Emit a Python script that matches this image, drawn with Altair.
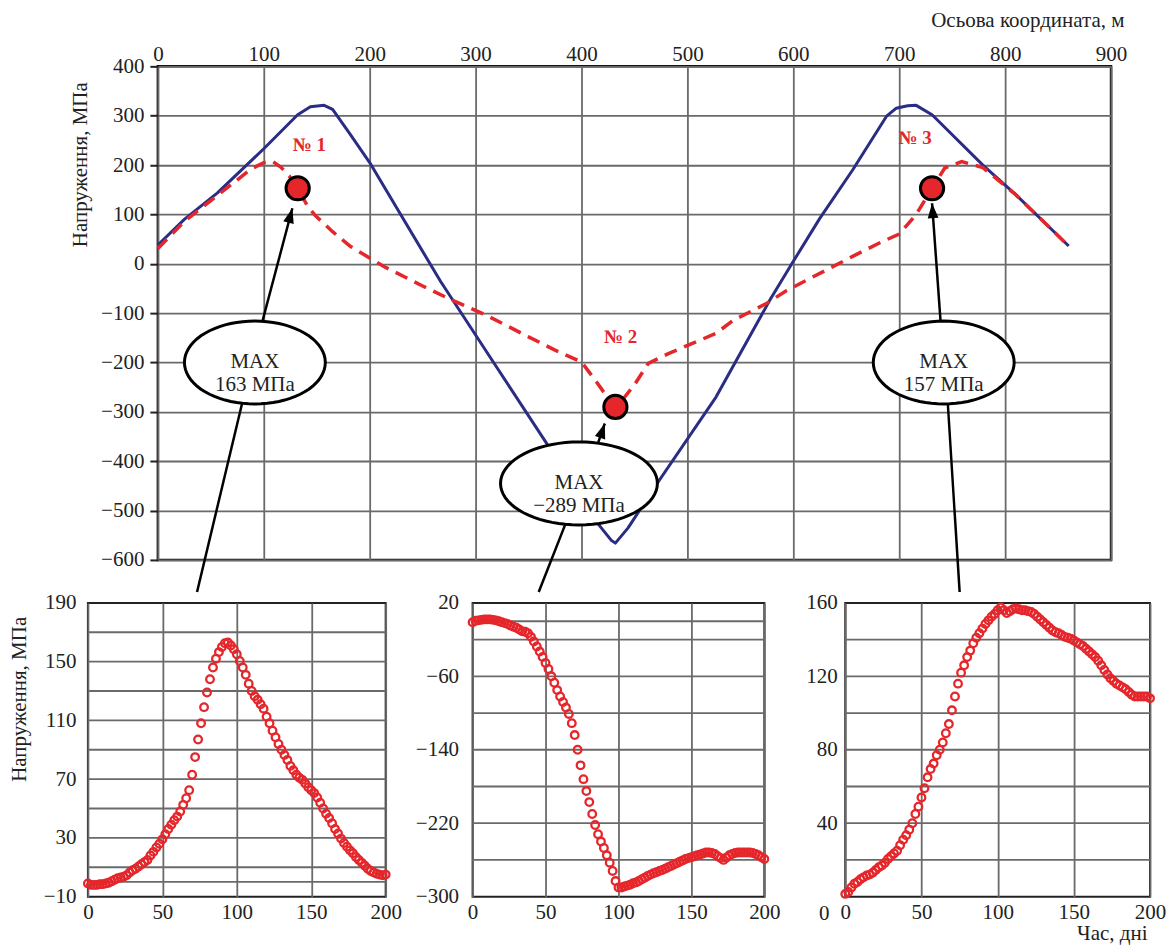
import math
import altair as alt
import pandas as pd

FONT = "Liberation Serif"
RED = "#e5262b"
BLUE = "#2b2d84"
GRID = "#6a6a6a"
INK = "#222222"

# ---------------- top panel data ----------------
coord_blue = [0, 25, 56, 100, 132, 144, 157, 165, 182, 200, 267, 317, 368, 416, 428, 432,
              444, 473, 527, 578, 598, 625, 656, 688, 697, 708, 716, 731, 779, 810, 860]
stress_blue = [38, 90, 143, 233, 302, 318, 321, 313, 261, 205, -36, -200, -367, -528, -560, -566,
               -535, -440, -270, -73, -2, 92, 190, 299, 315, 320, 321, 302, 200, 140, 36]

coord_red = [0, 25, 56, 88, 100, 108, 116, 124, 132, 140, 148, 165, 182, 213, 250, 276, 308,
             350, 375, 400, 413, 425, 432, 440, 450, 463, 482, 527, 543, 575, 593, 656, 684,
             700, 716, 731, 743, 759, 779, 810, 860]
stress_red = [31, 86, 138, 192, 205, 208, 196, 178, 153, 122, 99, 65, 35, -5, -45, -72, -102,
              -148, -175, -199, -236, -272, -290, -272, -245, -202, -182, -141, -115, -80, -55, 15, 45,
              60, 100, 153, 194, 207, 195, 140, 36]

point_x = [132, 432, 731]
point_y = [153, -290, 153]

no_labels = ["№ 1", "№ 2", "№ 3"]
no_x = [143, 437, 715]
no_y = [241, -148, 255]

ell_text = ["MAX\n163 МПа", "MAX\n−289 МПа", "MAX\n157 МПа"]
ell_x = [91.6, 397.6, 742]
ell_y = [-200, -445, -200]

arrow_x = [98.8, 415.8, 739]
arrow_y = [-116, -362, -116]
arrow_x2 = [127, 422, 731]
arrow_y2 = [112.6, -323.6, 122.7]
arrow_angle = [15, 18.5, 356]

conn_x = [79.4, 384.5, 745.9]
conn_y = [-284, -529, -284]
conn_x2 = [37, 359.6, 757]
conn_y2 = [-665, -665, -665]

# ---------------- bottom panels data ----------------
days = list(range(0, 201, 2))
stress_p1 = [-1, -2, -2, -2, -1.5, -1.5, -1, -0.5, 0.5, 1.5, 2.5, 3, 3.5, 4.5, 6.5, 8, 9, 10.5, 12, 13.5,
             15, 18, 20.5, 23.5, 26, 29, 32.5, 36, 39, 42, 44.5, 48, 52.5, 57, 62.5, 73, 85, 97, 108, 119,
             129, 138, 146, 152, 156.5, 160, 162.5, 163, 161, 158.5, 155, 150.5, 146, 141, 135, 130, 126.5,
             124, 121, 118, 112.5, 108, 103, 98.5, 94, 90, 86.5, 83, 79, 76, 73, 71, 69.5, 67, 64.5, 62.5,
             60.5, 57.5, 54, 50, 46.5, 43.5, 40, 36, 33, 29.5, 26.5, 24, 21.5, 19.5, 17, 15, 13, 11, 9, 7.5,
             6.5, 5.5, 5, 4.5, 5]
stress_p2 = [-1, 0.5, 1, 1.5, 2, 2, 2, 1.5, 1, 0, -1, -2, -3, -4.5, -6, -7, -9, -11, -11.5, -13,
             -17, -22, -27.5, -33, -39, -45.5, -52, -60, -67, -75, -82, -88, -94, -101, -111, -124, -140,
             -157, -172, -185, -197, -210, -222, -232, -240, -247, -255, -263, -272, -283, -290, -290, -289,
             -288, -287, -285.5, -284.5, -283, -281, -279.5, -277.5, -276, -274.5, -273.5, -272, -271,
             -269.5, -268, -266.5, -265, -263.5, -262, -260.5, -259, -258, -257, -256, -255, -254, -253,
             -252, -252, -252.5, -253.5, -256, -258, -260, -257.5, -255, -253.5, -252.5, -252, -252, -252,
             -252, -252, -252.5, -253.5, -255, -257, -259]
stress_p3 = [1.5, 2.5, 5, 7, 8, 9.5, 10.5, 11.5, 12, 13, 14.5, 16, 17, 18.5, 20.5, 22, 23.5, 25, 28, 31,
             33.5, 36.5, 40, 45, 49, 54, 59, 65, 69.5, 72.5, 77, 80, 84, 89, 94, 101.5, 109, 116, 122, 126,
             130.5, 134, 138, 141, 143.5, 146, 148.5, 150.5, 152.5, 154, 156, 157.5, 156, 154.5, 155.5, 156.5,
             157, 156.5, 156, 156, 155.5, 155, 154, 152.5, 151, 149.5, 148, 146.5, 145, 144, 143.5, 142.5,
             141.5, 141, 140.5, 139.5, 138.5, 137.5, 136.5, 135, 133.5, 132, 130.5, 128.5, 126, 123.5, 121,
             119, 117.5, 116, 115, 114, 113, 111.5, 110, 109, 109, 109, 109, 109, 108]

p1_yticks = [-10, 30, 70, 110, 150, 190]
p1_ygrid = [0, 10, 30, 50, 70, 90, 110, 130, 150, 170]
p2_yticks = [20, -60, -140, -220, -300]
p2_ygrid = [0, -20, -60, -100, -140, -180, -220, -260]
p3_yticks = [40, 80, 120, 160]
p3_ygrid = [20, 40, 60, 80, 100, 120, 140]
day_ticks = [0, 50, 100, 150, 200]

# ---------------- layout (pixels) ----------------
TL, TT, TW, TH = 156, 65, 954, 494
PT, PH = 599, 294
P1L, P1W = 87, 298
P2L, P2W = 470, 292
P3L, P3W = 843, 305


def lin(px, p0, w, d0, d1):
    return d0 + (px - p0) * (d1 - d0) / w


def ellipse_path(ry, n=72):
    pts = []
    for i in range(n):
        t = 2 * math.pi * i / n
        pts.append(f"{math.cos(t):.4f},{ry * math.sin(t):.4f}")
    return "M" + " L".join(pts) + " Z"


ARROW_PATH = "M0,0 L0.36,1 L-0.36,1 Z"

xs_top = alt.Scale(domain=[0, 900], nice=False, zero=False)
ys_top = alt.Scale(domain=[-600, 400], nice=False, zero=False)

top_x_axis = alt.Axis(orient="top", values=list(range(0, 901, 100)), title="Осьова координата, м",
                      titleX=TW + 13, titleY=-46, titleAlign="right", titleBaseline="middle", titleAngle=0,
                      titleFont=FONT, titleFontSize=21, titleFontWeight="normal", titleColor=INK,
                      labelFont=FONT, labelFontSize=21, labelColor=INK, labelPadding=2, labelFlush=False,
                      labelOverlap=False, ticks=False, domain=False, grid=True, gridColor=GRID, gridWidth=1.8)
top_y_axis = alt.Axis(values=list(range(-600, 401, 100)), title="Напруження, МПа",
                      titleX=-77, titleY=98, titleAlign="center", titleBaseline="middle", titleAngle=270,
                      titleFont=FONT, titleFontSize=21, titleFontWeight="normal", titleColor=INK,
                      labelFont=FONT, labelFontSize=21, labelColor=INK, labelPadding=6, labelOverlap=False,
                      ticks=True, tickSize=8, tickColor=INK, tickWidth=2, domain=False,
                      grid=True, gridColor=GRID, gridWidth=1.8)


def TX(f):
    return alt.X(f, type="quantitative", scale=xs_top, axis=top_x_axis)


def TY(f):
    return alt.Y(f, type="quantitative", scale=ys_top, axis=top_y_axis)


df_blue = pd.DataFrame({"x": coord_blue, "y": stress_blue})
df_red = pd.DataFrame({"x": coord_red, "y": stress_red})
df_pts = pd.DataFrame({"x": point_x, "y": point_y})
df_no = pd.DataFrame({"x": no_x, "y": no_y, "t": no_labels})
df_ell = pd.DataFrame({"x": ell_x, "y": ell_y, "t": ell_text})
df_arrow = pd.DataFrame({"x": arrow_x, "y": arrow_y, "x2": arrow_x2, "y2": arrow_y2, "a": arrow_angle})
df_conn = pd.DataFrame({"x": conn_x, "y": conn_y, "x2": conn_x2, "y2": conn_y2})
df_top_sp = pd.DataFrame({
    "x": [lin(0.5, TL, TW, 0, 900)], "x2": [lin(0.5, TL, TW, 0, 900)],
    "y": [400 - (0.5 - TT) * 1000 / TH], "y2": [400 - (600 - TT) * 1000 / TH]})

blue_line = alt.Chart(df_blue).mark_line(color=BLUE, strokeWidth=3, strokeJoin="round").encode(
    x=TX("x"), y=TY("y"))
red_line = alt.Chart(df_red).mark_line(color=RED, strokeWidth=3.5, strokeDash=[13, 8]).encode(
    x=TX("x"), y=TY("y"))
red_pts = alt.Chart(df_pts).mark_point(shape="circle", filled=True, fill=RED, stroke="black",
                                       strokeWidth=3, size=540, opacity=1).encode(x=TX("x"), y=TY("y"))
arrows = alt.Chart(df_arrow).mark_rule(color="black", strokeWidth=2.5).encode(
    x=TX("x"), y=TY("y"), x2=alt.X2("x2"), y2=alt.Y2("y2"))
heads = alt.Chart(df_arrow).mark_point(shape=ARROW_PATH, filled=True, color="black", size=900,
                                       opacity=1).encode(
    x=TX("x2"), y=TY("y2"), angle=alt.Angle("a:Q", scale=None))
conns = alt.Chart(df_conn).mark_rule(color="black", strokeWidth=2.5).encode(
    x=TX("x"), y=TY("y"), x2=alt.X2("x2"), y2=alt.Y2("y2"))
ell_a = alt.Chart(df_ell.iloc[[0, 2]]).mark_point(
    shape=ellipse_path(83 / 141), size=141 * 141, filled=True, fill="white", stroke="black",
    strokeWidth=3, opacity=1).encode(x=TX("x"), y=TY("y"))
ell_b = alt.Chart(df_ell.iloc[[1]]).mark_point(
    shape=ellipse_path(83 / 157), size=157 * 157, filled=True, fill="white", stroke="black",
    strokeWidth=3, opacity=1).encode(x=TX("x"), y=TY("y"))
ell_txt = alt.Chart(df_ell).mark_text(font=FONT, fontSize=21, lineBreak="\n", lineHeight=23,
                                      color=INK, align="center", baseline="middle").encode(
    x=TX("x"), y=TY("y"), text="t:N")
no_txt = alt.Chart(df_no).mark_text(font=FONT, fontSize=19, fontWeight="bold", color=RED,
                                    align="center", baseline="middle").encode(
    x=TX("x"), y=TY("y"), text="t:N")
top_sp = alt.Chart(df_top_sp).mark_rule(opacity=0, strokeWidth=1, color="white").encode(
    x=TX("x"), y=TY("y"), x2=alt.X2("x2"), y2=alt.Y2("y2"))

top = alt.layer(blue_line, red_line, red_pts, arrows, heads, conns, ell_a, ell_b, ell_txt, no_txt,
                top_sp).properties(width=TW, height=TH,
                                   view=alt.ViewBackground(stroke="#111111", strokeWidth=2.5))

# tiny invisible anchor cell so that the top panel can sit right of the lower-left panel's origin
anchor = alt.Chart(pd.DataFrame({"x": [0]})).mark_rule(opacity=0, strokeWidth=1, color="white").encode(
    x=alt.X("x:Q", scale=alt.Scale(domain=[0, 1]), axis=None), y=alt.value(0), y2=alt.value(1)
).properties(width=1, height=1, view=alt.ViewBackground(strokeOpacity=0, fillOpacity=0))

top_row = alt.hconcat(anchor, top, spacing=-(P1L + 1))


def panel(vals, ydom, yticks, ygrid, L, W, lpad, spacers, ytitle=None, xtitle=None, extra=None):
    xs = alt.Scale(domain=[0, 200], nice=False, zero=False)
    ys = alt.Scale(domain=ydom, nice=False, zero=False)
    yax = dict(values=yticks, labelFont=FONT, labelFontSize=21, labelColor=INK, labelPadding=lpad,
               labelOverlap=False, ticks=False, domain=False, grid=False)
    if ytitle:
        yax.update(title=ytitle, titleX=-68, titleY=96, titleAngle=270, titleAlign="center",
                   titleBaseline="middle", titleFont=FONT, titleFontSize=21, titleFontWeight="normal",
                   titleColor=INK)
    else:
        yax.update(title=None)
    xax = dict(values=day_ticks, labelFont=FONT, labelFontSize=21, labelColor=INK, labelPadding=5,
               labelFlush=False, labelOverlap=False, ticks=False, domain=False, grid=True,
               gridColor=GRID, gridWidth=1.8)
    if xtitle:
        xax.update(title=xtitle, titleX=302, titleY=37, titleAlign="right", titleBaseline="middle",
                   titleFont=FONT, titleFontSize=21, titleFontWeight="normal", titleColor=INK)
    else:
        xax.update(title=None)
    X = lambda f: alt.X(f, type="quantitative", scale=xs, axis=alt.Axis(**xax))
    Y = lambda f: alt.Y(f, type="quantitative", scale=ys, axis=alt.Axis(**yax))

    grid_df = pd.DataFrame({"g": ygrid})
    grid = alt.Chart(grid_df).mark_rule(color=GRID, strokeWidth=1.8).encode(y=Y("g"))
    df = pd.DataFrame({"d": days, "v": vals})
    pts = alt.Chart(df).mark_point(shape="circle", filled=False, color=RED, strokeWidth=2.3,
                                   size=58, opacity=1).encode(x=X("d"), y=Y("v"))
    ytop = ydom[1] + (PT - 580) * (ydom[1] - ydom[0]) / PH
    sp_df = pd.DataFrame({"x": [lin(s, L, W, 0, 200) for s in spacers],
                          "y": [ytop] * len(spacers), "y2": [ydom[1]] * len(spacers)})
    sp = alt.Chart(sp_df).mark_rule(opacity=0, strokeWidth=1, color="white").encode(
        x=X("x"), y=Y("y"), y2=alt.Y2("y2"))
    layers = [grid, pts, sp]
    if extra is not None:
        layers.append(extra(X, Y))
    return alt.layer(*layers).properties(width=W, height=PH,
                                         view=alt.ViewBackground(stroke="#222222", strokeWidth=2))


def zero_label(X, Y):
    d = pd.DataFrame({"x": [lin(822, P3L, P3W, 0, 200)], "y": [-17 * 160 / PH], "t": ["0"]})
    return alt.Chart(d).mark_text(font=FONT, fontSize=21, color=INK, align="center",
                                  baseline="middle").encode(x=X("x"), y=Y("y"), text="t:N")


p1 = panel(stress_p1, [-10, 190], p1_yticks, p1_ygrid, P1L, P1W, 12, [0.5, 405],
           ytitle="Напруження, МПа")
p2 = panel(stress_p2, [-300, 20], p2_yticks, p2_ygrid, P2L, P2W, 14, [405, 800])
p3 = panel(stress_p3, [0, 160], p3_yticks, p3_ygrid, P3L, P3W, 8, [802], xtitle="Час, дні",
           extra=zero_label)

bottom = alt.hconcat(p1, p2, p3, spacing=0)
chart = alt.vconcat(top_row, bottom, spacing=-21).properties(
    padding=0, background="white"
).configure(font=FONT)

chart.save("out.html", embed_options={"renderer": "svg", "actions": False})
